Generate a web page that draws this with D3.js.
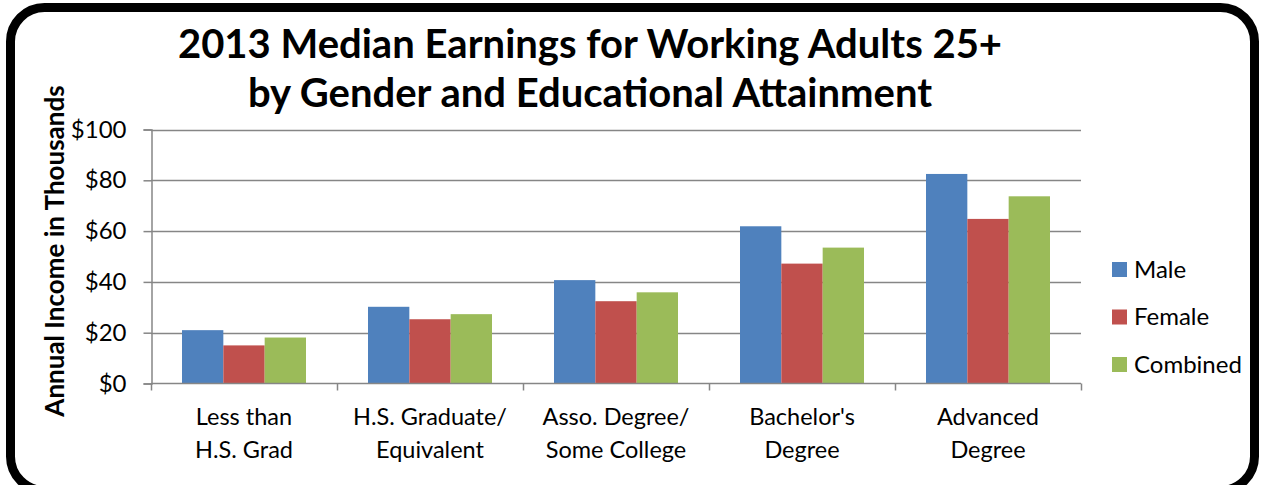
<!DOCTYPE html>
<html>
<head>
<meta charset="utf-8">
<script src="https://cdn.jsdelivr.net/npm/d3@7"></script>
<style>
  html, body { margin: 0; padding: 0; background: #fff; }
  svg { display: block; }
  text { font-family: Lato, "Open Sans", sans-serif; fill: #000; }
</style>
</head>
<body>
<svg id="chart" width="1265" height="485"></svg>
<script>
// Median earnings (thousands of dollars), 2013, working adults 25+
const categories = [
  ["Less than", "H.S. Grad"],
  ["H.S. Graduate/", "Equivalent"],
  ["Asso. Degree/", "Some College"],
  ["Bachelor's", "Degree"],
  ["Advanced", "Degree"]
];
const seriesNames = ["Male", "Female", "Combined"];
const male     = [21.0, 30.2, 40.7, 61.9, 82.5];
const female   = [15.0, 25.3, 32.4, 47.2, 64.8];
const combined = [18.1, 27.3, 35.9, 53.5, 73.7];
const yTicks = [0, 20, 40, 60, 80, 100];
const titleLines = [
  "2013 Median Earnings for Working Adults 25+",
  "by Gender and Educational Attainment"
];
const yAxisTitle = "Annual Income in Thousands";

const seriesValues = [male, female, combined];
const colors = ["#4F81BD", "#C0504D", "#9BBB59"];

const svg = d3.select("#chart");
const W = 1265, H = 485;

// rounded frame
svg.append("rect")
  .attr("x", 10.5).attr("y", 7.5)
  .attr("width", W - 21).attr("height", H - 2)
  .attr("rx", 34).attr("ry", 34)
  .attr("fill", "#fff").attr("stroke", "#000").attr("stroke-width", 9);

// plot area
const plot = { left: 151, right: 1081, top: 129.5, bottom: 383.5 };

const x = d3.scaleBand()
  .domain(d3.range(categories.length))
  .range([plot.left, plot.right])
  .padding(0);

const y = d3.scaleLinear()
  .domain([0, 100])
  .range([plot.bottom, plot.top]);

// bars occupy 3 widths of a 4.5-width slot (gap width 150%)
const barW = x.step() / 4.5;
const xs = d3.scaleBand()
  .domain(d3.range(seriesNames.length))
  .range([0.75 * barW, 3.75 * barW])
  .padding(0);

const gridColor = "#868686";

// horizontal gridlines
svg.append("g")
  .selectAll("line")
  .data(yTicks.filter(d => d > 0))
  .join("line")
  .attr("x1", plot.left).attr("x2", plot.right)
  .attr("y1", d => Math.round(y(d)) + 0.5).attr("y2", d => Math.round(y(d)) + 0.5)
  .attr("stroke", gridColor).attr("stroke-width", 1.5);

// bars
const groups = svg.append("g")
  .selectAll("g")
  .data(categories)
  .join("g")
  .attr("transform", (d, i) => `translate(${x(i)},0)`);

groups.selectAll("rect")
  .data((d, i) => seriesValues.map((vals, s) => ({ s, v: vals[i] })))
  .join("rect")
  .attr("x", d => xs(d.s))
  .attr("width", xs.bandwidth())
  .attr("y", d => y(d.v))
  .attr("height", d => y(0) - y(d.v))
  .attr("fill", d => colors[d.s]);

// y axis
const yAxis = d3.axisLeft(y)
  .tickValues(yTicks)
  .tickSize(8)
  .tickPadding(17)
  .tickFormat(d => "$" + d);

const gy = svg.append("g")
  .attr("transform", `translate(${plot.left + 0.5},0)`)
  .call(yAxis);
gy.select(".domain").attr("stroke", gridColor).attr("stroke-width", 1.5);
gy.selectAll(".tick line").attr("stroke", gridColor).attr("stroke-width", 1.5);
gy.selectAll(".tick text")
  .style("font-family", "Lato, sans-serif")
  .style("font-size", "24px")
  .attr("fill", "#000");

// x axis line and category boundary ticks
svg.append("line")
  .attr("x1", plot.left).attr("x2", plot.right)
  .attr("y1", plot.bottom).attr("y2", plot.bottom)
  .attr("stroke", gridColor).attr("stroke-width", 1.5);

const boundaries = d3.range(categories.length + 1).map(i => plot.left + i * x.step());
svg.append("g")
  .selectAll("line")
  .data(boundaries)
  .join("line")
  .attr("x1", d => Math.round(d) + 0.5).attr("x2", d => Math.round(d) + 0.5)
  .attr("y1", plot.bottom).attr("y2", plot.bottom + 7)
  .attr("stroke", gridColor).attr("stroke-width", 1.5);

// category labels (two lines)
const xl = svg.append("g")
  .selectAll("text")
  .data(categories)
  .join("text")
  .attr("text-anchor", "middle")
  .style("font-size", "23.5px");
xl.selectAll("tspan")
  .data((d, i) => d.map((t, k) => ({ t, k, i })))
  .join("tspan")
  .attr("x", d => x(d.i) + x.bandwidth() / 2)
  .attr("y", d => 425 + d.k * 33)
  .text(d => d.t);

// title
svg.append("g")
  .selectAll("text")
  .data(titleLines)
  .join("text")
  .attr("x", 590)
  .attr("y", (d, i) => 58 + i * 49)
  .attr("text-anchor", "middle")
  .style("font-size", "40px")
  .style("font-weight", "bold")
  .text(d => d);

// y axis title
svg.append("text")
  .attr("transform", "translate(64,251) rotate(-90)")
  .attr("text-anchor", "middle")
  .style("font-size", "26px")
  .style("font-weight", "bold")
  .text(yAxisTitle);

// legend
const legend = svg.append("g")
  .selectAll("g")
  .data(seriesNames)
  .join("g")
  .attr("transform", (d, i) => `translate(1112,${262 + i * 47.5})`);
legend.append("rect")
  .attr("width", 15).attr("height", 15)
  .attr("fill", (d, i) => colors[i]);
legend.append("text")
  .attr("x", 22).attr("y", 15.5)
  .style("font-size", "24px")
  .text(d => d);
</script>
</body>
</html>
